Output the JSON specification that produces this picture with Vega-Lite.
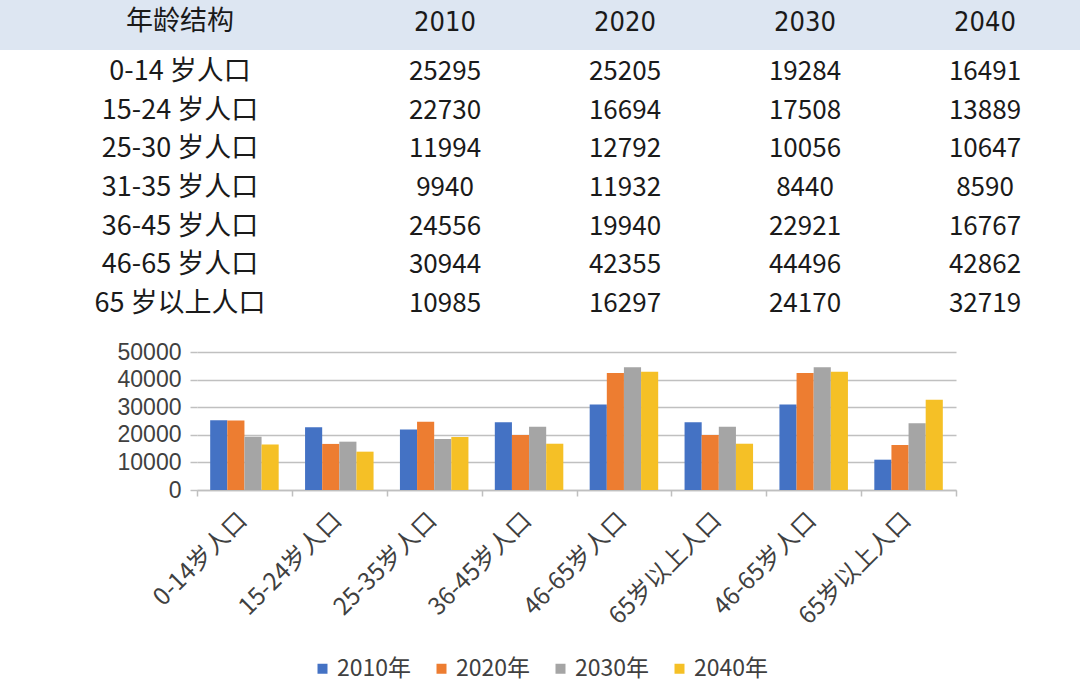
{
  "$schema": "https://vega.github.io/schema/vega-lite/v6.json",
  "padding": 0,
  "background": "white",
  "config": {"view": {"stroke": null}, "font": "Noto Sans CJK SC", "legend": {"layout": {"bottom": {"anchor": "middle"}}}},
  "datasets": {
    "years": [{"year": "2010"}, {"year": "2020"}, {"year": "2030"}, {"year": "2040"}],
    "rowlabels": [
      {"row": "0-14 岁人口"}, {"row": "15-24 岁人口"}, {"row": "25-30 岁人口"}, {"row": "31-35 岁人口"},
      {"row": "36-45 岁人口"}, {"row": "46-65 岁人口"}, {"row": "65 岁以上人口"}
    ],
    "cells": [
      {"row": "0-14 岁人口", "year": "2010", "value": 25295}, {"row": "0-14 岁人口", "year": "2020", "value": 25205}, {"row": "0-14 岁人口", "year": "2030", "value": 19284}, {"row": "0-14 岁人口", "year": "2040", "value": 16491},
      {"row": "15-24 岁人口", "year": "2010", "value": 22730}, {"row": "15-24 岁人口", "year": "2020", "value": 16694}, {"row": "15-24 岁人口", "year": "2030", "value": 17508}, {"row": "15-24 岁人口", "year": "2040", "value": 13889},
      {"row": "25-30 岁人口", "year": "2010", "value": 11994}, {"row": "25-30 岁人口", "year": "2020", "value": 12792}, {"row": "25-30 岁人口", "year": "2030", "value": 10056}, {"row": "25-30 岁人口", "year": "2040", "value": 10647},
      {"row": "31-35 岁人口", "year": "2010", "value": 9940}, {"row": "31-35 岁人口", "year": "2020", "value": 11932}, {"row": "31-35 岁人口", "year": "2030", "value": 8440}, {"row": "31-35 岁人口", "year": "2040", "value": 8590},
      {"row": "36-45 岁人口", "year": "2010", "value": 24556}, {"row": "36-45 岁人口", "year": "2020", "value": 19940}, {"row": "36-45 岁人口", "year": "2030", "value": 22921}, {"row": "36-45 岁人口", "year": "2040", "value": 16767},
      {"row": "46-65 岁人口", "year": "2010", "value": 30944}, {"row": "46-65 岁人口", "year": "2020", "value": 42355}, {"row": "46-65 岁人口", "year": "2030", "value": 44496}, {"row": "46-65 岁人口", "year": "2040", "value": 42862},
      {"row": "65 岁以上人口", "year": "2010", "value": 10985}, {"row": "65 岁以上人口", "year": "2020", "value": 16297}, {"row": "65 岁以上人口", "year": "2030", "value": 24170}, {"row": "65 岁以上人口", "year": "2040", "value": 32719}
    ],
    "bars": [
      {"cat": "1|0-14岁人口", "year": "2010年", "value": 25295}, {"cat": "1|0-14岁人口", "year": "2020年", "value": 25205}, {"cat": "1|0-14岁人口", "year": "2030年", "value": 19284}, {"cat": "1|0-14岁人口", "year": "2040年", "value": 16491},
      {"cat": "2|15-24岁人口", "year": "2010年", "value": 22730}, {"cat": "2|15-24岁人口", "year": "2020年", "value": 16694}, {"cat": "2|15-24岁人口", "year": "2030年", "value": 17508}, {"cat": "2|15-24岁人口", "year": "2040年", "value": 13889},
      {"cat": "3|25-35岁人口", "year": "2010年", "value": 21934}, {"cat": "3|25-35岁人口", "year": "2020年", "value": 24724}, {"cat": "3|25-35岁人口", "year": "2030年", "value": 18496}, {"cat": "3|25-35岁人口", "year": "2040年", "value": 19237},
      {"cat": "4|36-45岁人口", "year": "2010年", "value": 24556}, {"cat": "4|36-45岁人口", "year": "2020年", "value": 19940}, {"cat": "4|36-45岁人口", "year": "2030年", "value": 22921}, {"cat": "4|36-45岁人口", "year": "2040年", "value": 16767},
      {"cat": "5|46-65岁人口", "year": "2010年", "value": 30944}, {"cat": "5|46-65岁人口", "year": "2020年", "value": 42355}, {"cat": "5|46-65岁人口", "year": "2030年", "value": 44496}, {"cat": "5|46-65岁人口", "year": "2040年", "value": 42862},
      {"cat": "6|65岁以上人口", "year": "2010年", "value": 24556}, {"cat": "6|65岁以上人口", "year": "2020年", "value": 19940}, {"cat": "6|65岁以上人口", "year": "2030年", "value": 22921}, {"cat": "6|65岁以上人口", "year": "2040年", "value": 16767},
      {"cat": "7|46-65岁人口", "year": "2010年", "value": 30944}, {"cat": "7|46-65岁人口", "year": "2020年", "value": 42355}, {"cat": "7|46-65岁人口", "year": "2030年", "value": 44496}, {"cat": "7|46-65岁人口", "year": "2040年", "value": 42862},
      {"cat": "8|65岁以上人口", "year": "2010年", "value": 10985}, {"cat": "8|65岁以上人口", "year": "2020年", "value": 16297}, {"cat": "8|65岁以上人口", "year": "2030年", "value": 24170}, {"cat": "8|65岁以上人口", "year": "2040年", "value": 32719}
    ]
  },
  "spacing": 21,
  "vconcat": [
    {
      "spacing": 0,
      "vconcat": [
        {
          "width": 1080,
          "height": 50,
          "view": {"fill": "#dde6f2", "stroke": null},
          "layer": [
            {
              "data": {"values": [{"t": "年龄结构"}]},
              "mark": {"type": "text", "font": "Noto Sans CJK SC", "fontSize": 27, "color": "#1a1a1a", "dy": -3},
              "encoding": {
                "x": {"datum": "label", "type": "nominal", "bandPosition": 1, "axis": null,
                      "scale": {"type": "band", "domain": ["label", "gap", "2010", "2020", "2030", "2040"], "paddingInner": 0, "paddingOuter": 0}},
                "text": {"field": "t"}
              }
            },
            {
              "data": {"name": "years"},
              "mark": {"type": "text", "font": "'DejaVu Sans Condensed', 'Liberation Sans', sans-serif", "fontSize": 27, "color": "#1a1a1a", "dy": -2, "dx": -5},
              "encoding": {
                "x": {"field": "year", "type": "nominal", "axis": null,
                      "scale": {"type": "band", "domain": ["label", "gap", "2010", "2020", "2030", "2040"], "paddingInner": 0, "paddingOuter": 0}},
                "text": {"field": "year"}
              }
            }
          ]
        },
        {
          "width": 1080,
          "height": 270,
          "layer": [
            {
              "data": {"name": "rowlabels"},
              "mark": {"type": "text", "fontSize": 27, "color": "#1a1a1a", "dy": 3},
              "encoding": {
                "x": {"datum": "label", "type": "nominal", "bandPosition": 1, "axis": null,
                      "scale": {"type": "band", "domain": ["label", "gap", "2010", "2020", "2030", "2040"], "paddingInner": 0, "paddingOuter": 0}},
                "y": {"field": "row", "type": "nominal", "sort": null, "axis": null},
                "text": {"field": "row"}
              }
            },
            {
              "data": {"name": "cells"},
              "mark": {"type": "text", "fontSize": 26, "color": "#1a1a1a", "dy": 3, "dx": -5},
              "encoding": {
                "x": {"field": "year", "type": "nominal", "axis": null,
                      "scale": {"type": "band", "domain": ["label", "gap", "2010", "2020", "2030", "2040"], "paddingInner": 0, "paddingOuter": 0}},
                "y": {"field": "row", "type": "nominal", "sort": null, "axis": null},
                "text": {"field": "value", "type": "quantitative", "format": "d"}
              }
            }
          ]
        }
      ]
    },
    {
      "spacing": 0,
      "hconcat": [
        {
          "width": 117,
          "height": 138,
          "data": {"values": []},
          "mark": {"type": "text"},
          "encoding": {}
        },
        {
          "width": 759,
          "height": 138,
          "data": {"name": "bars"},
          "mark": {"type": "bar"},
          "encoding": {
            "x": {
              "field": "cat", "type": "nominal", "sort": null,
              "scale": {"paddingInner": 0, "paddingOuter": 0},
              "axis": {"title": null, "labelExpr": "split(datum.value, '|')[1]", "labelAngle": -45, "labelFontSize": 24,
                       "labelColor": "#404040", "tickBand": "extent", "domainColor": "#bfbfbf", "domainWidth": 1.5,
                       "tickColor": "#bfbfbf", "tickSize": 6, "tickWidth": 1.5, "labelPadding": 12, "labelOffset": -10}
            },
            "xOffset": {"field": "year", "type": "nominal", "scale": {"paddingInner": 0, "paddingOuter": 0.77}},
            "y": {
              "field": "value", "type": "quantitative", "scale": {"domain": [0, 50000]},
              "axis": {"title": null, "values": [0, 10000, 20000, 30000, 40000, 50000], "format": "d", "labelFontSize": 23,
                       "labelFont": "Liberation Sans", "labelColor": "#404040", "gridColor": "#c0c0c0", "gridWidth": 1.5,
                       "domain": false, "tickColor": "#c0c0c0", "tickSize": 7, "tickWidth": 1.5, "labelPadding": 9}
            },
            "color": {
              "field": "year", "type": "nominal",
              "scale": {"range": ["#4472c4", "#ed7d31", "#a5a5a5", "#f5c026"]},
              "legend": {"orient": "bottom", "direction": "horizontal", "title": null, "symbolType": "square", "symbolSize": 100,
                         "labelFontSize": 23, "labelColor": "#404040", "columnPadding": 18, "labelOffset": 3, "offset": 28}
            }
          }
        }
      ]
    }
  ]
}
